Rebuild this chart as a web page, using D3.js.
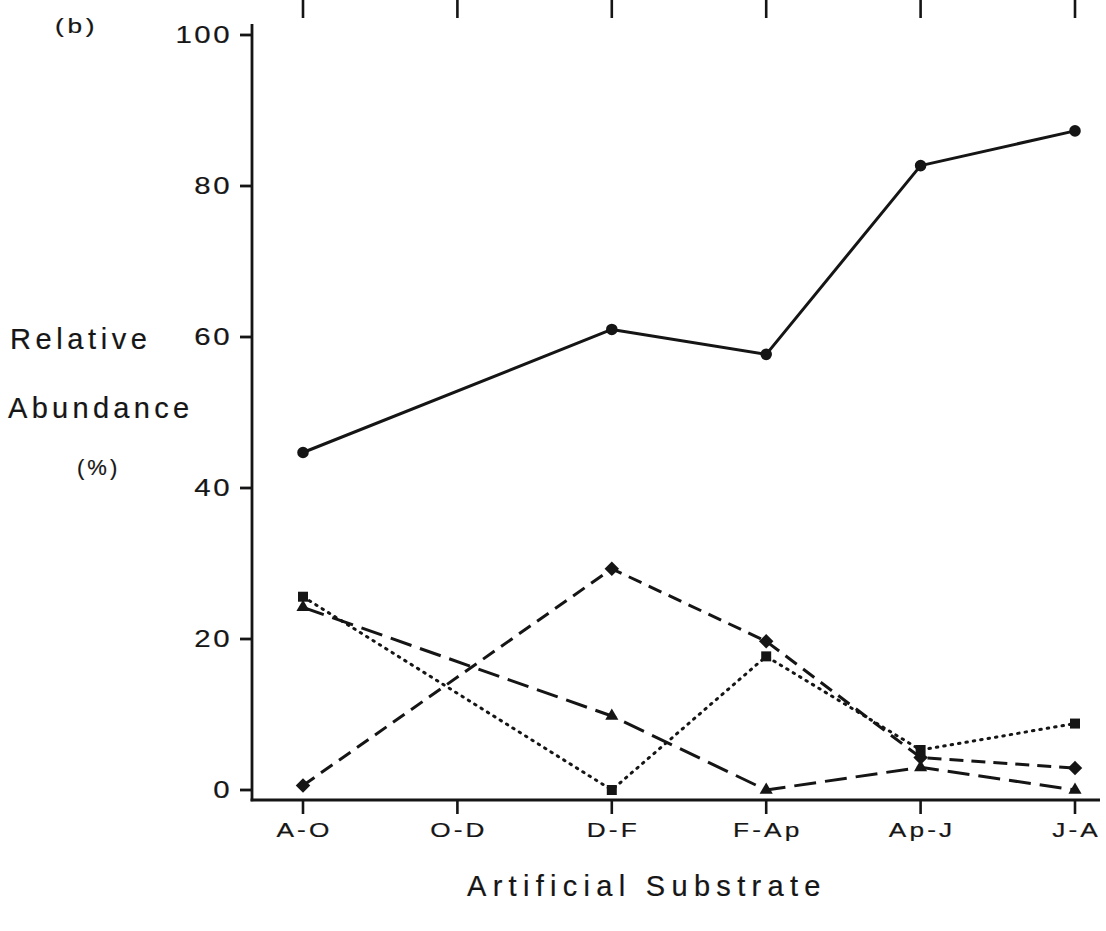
<!DOCTYPE html>
<html>
<head>
<meta charset="utf-8">
<script src="https://cdn.jsdelivr.net/npm/d3@7"></script>
<style>
  html, body { margin: 0; padding: 0; background: #fff; }
  svg { display: block; }
  text { font-family: "Liberation Sans", Arial, Helvetica, sans-serif; fill: #161616; stroke: #161616; stroke-width: 0.2px; }
</style>
</head>
<body>
<svg id="chart" width="1106" height="931"></svg>
<script>
// Sampling periods (artificial substrate exposure intervals)
const categories = ["A-O", "O-D", "D-F", "F-Ap", "Ap-J", "J-A"];
const yTicks = [0, 20, 40, 60, 80, 100];

// Relative abundance (%) per group; null = no sample for that period
const circleSeries   = [44.7, null, 61.0, 57.7, 82.7, 87.3];
const squareSeries   = [25.6, null, 0.0, 17.7, 5.3, 8.8];
const triangleSeries = [24.2, null, 9.8, 0.0, 3.0, 0.0];
const diamondSeries  = [0.6, null, 29.3, 19.7, 4.3, 2.9];

const ink = "#151515";
const svg = d3.select("#chart");

const x = d3.scalePoint().domain(categories).range([303, 1075]);
const y = d3.scaleLinear().domain([0, 100]).range([790, 35]);

const axisX = 252;      // left edge of the frame
const baseY = 800;      // bottom edge of the frame
const wide = 1.25;      // horizontal stretch of the lettering

// Panel label
svg.append("text").attr("transform", `translate(55,33) scale(${wide},1)`)
  .attr("font-size", 21).attr("letter-spacing", 3).text("(b)");

// Stub ticks from the panel above
svg.append("g").selectAll("line").data(categories).join("line")
  .attr("x1", d => x(d)).attr("x2", d => x(d))
  .attr("y1", 0).attr("y2", 18)
  .attr("stroke", ink).attr("stroke-width", 2.6);

// Vertical axis
svg.append("line").attr("x1", axisX).attr("x2", axisX)
  .attr("y1", 24).attr("y2", baseY + 1.3)
  .attr("stroke", ink).attr("stroke-width", 2.8);
const yt = svg.append("g").selectAll("g").data(yTicks).join("g")
  .attr("transform", d => `translate(0,${y(d)})`);
yt.append("line").attr("x1", 240).attr("x2", axisX)
  .attr("stroke", ink).attr("stroke-width", 2.8);
yt.append("text").attr("transform", `translate(232,0) scale(${wide},1)`)
  .attr("dy", "0.36em")
  .attr("text-anchor", "end").attr("font-size", 23.5).attr("letter-spacing", 2)
  .text(d => d);

// Horizontal axis
svg.append("line").attr("x1", axisX - 1.4).attr("x2", 1100)
  .attr("y1", baseY).attr("y2", baseY)
  .attr("stroke", ink).attr("stroke-width", 2.8);
const xt = svg.append("g").selectAll("g").data(categories).join("g")
  .attr("transform", d => `translate(${x(d)},${baseY})`);
xt.append("line").attr("y1", 0).attr("y2", 14)
  .attr("stroke", ink).attr("stroke-width", 2.6);
xt.append("text").attr("transform", `translate(1.5,37) scale(${wide},1)`)
  .attr("text-anchor", "middle").attr("font-size", 21).attr("letter-spacing", 2.5)
  .text(d => d);

// Axis titles
svg.append("text").attr("x", 10).attr("y", 349)
  .attr("font-size", 29).attr("letter-spacing", 4.6).text("Relative");
svg.append("text").attr("x", 8).attr("y", 418)
  .attr("font-size", 29).attr("letter-spacing", 4.3).text("Abundance");
svg.append("text").attr("x", 77).attr("y", 475)
  .attr("font-size", 22).attr("letter-spacing", 3).text("(%)");
svg.append("text").attr("x", 467).attr("y", 896)
  .attr("font-size", 29).attr("letter-spacing", 6.3).text("Artificial Substrate");

// Series
const series = [
  { values: circleSeries,   symbol: d3.symbolCircle,   size: 105, rot: 0,  dash: null,    cap: "round" },
  { values: squareSeries,   symbol: d3.symbolSquare,   size: 100, rot: 0,  dash: "1.5,6", cap: "round" },
  { values: triangleSeries, symbol: d3.symbolTriangle, size: 75,  rot: 0,  dash: "22,9",  cap: "butt" },
  { values: diamondSeries,  symbol: d3.symbolSquare,   size: 105, rot: 45, dash: "14,8",  cap: "butt" }
];

const line = d3.line().x(d => x(d.cat)).y(d => y(d.v));

series.forEach(s => {
  const pts = categories.map((c, i) => ({ cat: c, v: s.values[i] })).filter(p => p.v !== null);
  svg.append("path").datum(pts)
    .attr("d", line)
    .attr("fill", "none")
    .attr("stroke", ink)
    .attr("stroke-width", 3)
    .attr("stroke-linecap", s.cap)
    .attr("stroke-linejoin", "round")
    .attr("stroke-dasharray", s.dash);
  svg.append("g").selectAll("path").data(pts).join("path")
    .attr("transform", p => `translate(${x(p.cat)},${y(p.v)}) rotate(${s.rot})`)
    .attr("d", d3.symbol().type(s.symbol).size(s.size))
    .attr("fill", ink);
});
</script>
</body>
</html>
